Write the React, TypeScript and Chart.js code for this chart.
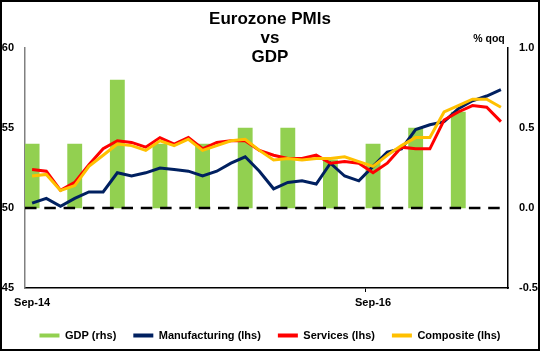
import React, { useEffect, useRef } from "react";
import { Chart, registerables } from "chart.js";

Chart.register(...registerables);

const months = [
  "Sep-14", "Oct-14", "Nov-14", "Dec-14", "Jan-15", "Feb-15", "Mar-15", "Apr-15",
  "May-15", "Jun-15", "Jul-15", "Aug-15", "Sep-15", "Oct-15", "Nov-15", "Dec-15",
  "Jan-16", "Feb-16", "Mar-16", "Apr-16", "May-16", "Jun-16", "Jul-16", "Aug-16",
  "Sep-16", "Oct-16", "Nov-16", "Dec-16", "Jan-17", "Feb-17", "Mar-17", "Apr-17",
  "May-17", "Jun-17",
];

const xTickLabels = ["Sep-14", "Sep-16"];

const manufacturing = [
  50.3, 50.6, 50.1, 50.6, 51.0, 51.0, 52.2, 52.0, 52.2, 52.5, 52.4, 52.3,
  52.0, 52.3, 52.8, 53.2, 52.3, 51.2, 51.6, 51.7, 51.5, 52.8, 52.0, 51.7,
  52.6, 53.5, 53.7, 54.9, 55.2, 55.4, 56.2, 56.7, 57.0, 57.4,
];

const services = [
  52.4, 52.3, 51.1, 51.6, 52.7, 53.7, 54.2, 54.1, 53.8, 54.4, 54.0, 54.4,
  53.7, 54.1, 54.2, 54.2, 53.6, 53.3, 53.1, 53.1, 53.3, 52.8, 52.9, 52.8,
  52.2, 52.8, 53.8, 53.7, 53.7, 55.5, 56.0, 56.4, 56.3, 55.4,
];

const composite = [
  52.0, 52.1, 51.1, 51.4, 52.6, 53.3, 54.0, 53.9, 53.6, 54.2, 53.9, 54.3,
  53.6, 53.9, 54.2, 54.3, 53.6, 53.0, 53.1, 53.0, 53.1, 53.1, 53.2, 52.9,
  52.6, 53.3, 53.9, 54.4, 54.4, 56.0, 56.4, 56.8, 56.8, 56.3,
];

const gdpQuarters = [
  "Sep-14", "Dec-14", "Mar-15", "Jun-15", "Sep-15", "Dec-15",
  "Mar-16", "Jun-16", "Sep-16", "Dec-16", "Mar-17",
];
const gdpValues = [0.4, 0.4, 0.8, 0.4, 0.4, 0.5, 0.5, 0.3, 0.4, 0.5, 0.6];

const leftTicks = [45, 50, 55, 60];
const rightTicks = [-0.5, 0.0, 0.5, 1.0];

const titleLines = ["Eurozone PMIs", "vs", "GDP"];
const rightAxisTitle = "% qoq";

const FONT = '"Liberation Sans", Arial, sans-serif';

export default function App() {
  const canvasRef = useRef<HTMLCanvasElement | null>(null);

  useEffect(() => {
    const canvas = canvasRef.current;
    if (!canvas) return;

    const gdpSeries = months.map((m) => {
      const i = gdpQuarters.indexOf(m);
      return i >= 0 ? gdpValues[i] : null;
    });

    const decorPlugin = {
      id: "decor",
      afterDatasetsDraw(chart: any) {
        const { ctx, chartArea, scales } = chart;
        const y50 = scales.y.getPixelForValue(50);
        ctx.save();
        ctx.strokeStyle = "#000";
        ctx.lineWidth = 2.5;
        ctx.setLineDash([11.5, 7.8]);
        ctx.beginPath();
        ctx.moveTo(chartArea.left, y50);
        ctx.lineTo(chartArea.right - 4, y50);
        ctx.stroke();
        ctx.restore();
      },
      afterDraw(chart: any) {
        const { ctx } = chart;
        ctx.save();
        ctx.fillStyle = "#000";
        ctx.textAlign = "center";
        ctx.textBaseline = "alphabetic";
        ctx.font = `bold 17px ${FONT}`;
        const baselines = [24, 43, 62];
        titleLines.forEach((t, i) => ctx.fillText(t, 270, baselines[i]));
        ctx.font = `bold 10.5px ${FONT}`;
        ctx.fillText(rightAxisTitle, 489, 42);
        ctx.strokeStyle = "#000";
        ctx.lineWidth = 2;
        ctx.setLineDash([]);
        ctx.strokeRect(1, 1, 538, 349);
        ctx.restore();
      },
    };

    const chart = new Chart(canvas, {
      type: "bar",
      data: {
        labels: months,
        datasets: [
          {
            type: "bar",
            label: "GDP (rhs)",
            data: gdpSeries,
            backgroundColor: "#92D050",
            borderWidth: 0,
            yAxisID: "y1",
            barPercentage: 1,
            categoryPercentage: 1,
            order: 4,
          } as any,
          {
            type: "line",
            label: "Manufacturing (lhs)",
            data: manufacturing,
            borderColor: "#002060",
            backgroundColor: "#002060",
            borderWidth: 3,
            pointRadius: 0,
            tension: 0,
            yAxisID: "y",
            order: 3,
          },
          {
            type: "line",
            label: "Services (lhs)",
            data: services,
            borderColor: "#FF0000",
            backgroundColor: "#FF0000",
            borderWidth: 3,
            pointRadius: 0,
            tension: 0,
            yAxisID: "y",
            order: 2,
          },
          {
            type: "line",
            label: "Composite (lhs)",
            data: composite,
            borderColor: "#FFC000",
            backgroundColor: "#FFC000",
            borderWidth: 3,
            pointRadius: 0,
            tension: 0,
            yAxisID: "y",
            order: 1,
          },
        ],
      },
      options: {
        responsive: false,
        animation: false,
        devicePixelRatio: 1,
        layout: { padding: { top: 48, left: 0, right: 0, bottom: 0 } },
        scales: {
          x: {
            offset: true,
            grid: {
              display: true,
              offset: true,
              drawOnChartArea: false,
              drawTicks: true,
              tickLength: 4,
              lineWidth: 1,
              color: "transparent",
              tickColor: (c: any) =>
                c.index > 0 && xTickLabels.includes(months[c.index]) ? "#000" : "transparent",
            },
            border: { display: true, color: "#000", width: 1.5 },
            ticks: {
              autoSkip: false,
              maxRotation: 0,
              minRotation: 0,
              padding: 4,
              color: "#000",
              font: { family: FONT, size: 11, weight: "bold" },
              callback: (_v: any, i: number) =>
                xTickLabels.includes(months[i]) ? months[i] : "",
            },
            afterFit: (s: any) => {
              s.height = 25;
            },
          },
          y: {
            position: "left",
            min: 45,
            max: 60,
            grid: { display: false, drawTicks: false },
            border: { display: true, color: "#808080", width: 1.5 },
            afterBuildTicks: (s: any) => {
              s.ticks = leftTicks.map((v) => ({ value: v }));
            },
            ticks: {
              padding: 11,
              color: "#000",
              font: { family: FONT, size: 11, weight: "bold" },
              callback: (v: any) => String(v),
            },
            afterFit: (s: any) => {
              s.width = 25;
            },
          },
          y1: {
            position: "right",
            min: -0.5,
            max: 1.0,
            grid: { display: false, drawTicks: false },
            border: { display: true, color: "#000", width: 1.5 },
            afterBuildTicks: (s: any) => {
              s.ticks = rightTicks.map((v) => ({ value: v }));
            },
            ticks: {
              padding: 11,
              color: "#000",
              font: { family: FONT, size: 11, weight: "bold" },
              callback: (v: any) => Number(v).toFixed(1),
            },
            afterFit: (s: any) => {
              s.width = 32;
            },
          },
        },
        plugins: {
          title: { display: false },
          tooltip: { enabled: false },
          legend: {
            display: true,
            position: "bottom",
            labels: {
              color: "#000",
              font: { family: FONT, size: 11, weight: "bold" },
              boxWidth: 20,
              boxHeight: 4,
              padding: 17,
              sort: (a: any, b: any) => a.datasetIndex - b.datasetIndex,
              generateLabels: (ch: any) => {
                const items = Chart.defaults.plugins.legend.labels.generateLabels(ch);
                return items.map((it: any) => {
                  const ds: any = ch.data.datasets[it.datasetIndex];
                  const col = ds.type === "bar" ? ds.backgroundColor : ds.borderColor;
                  return { ...it, fillStyle: col, strokeStyle: col, lineWidth: 0 };
                });
              },
            },
          },
        },
      },
      plugins: [decorPlugin],
    });

    return () => {
      chart.destroy();
    };
  }, []);

  return (
    <div style={{ position: "fixed", left: 0, top: 0, width: 540, height: 351, background: "#fff" }}>
      <canvas ref={canvasRef} width={540} height={351} style={{ width: 540, height: 351, display: "block" }} />
    </div>
  );
}
